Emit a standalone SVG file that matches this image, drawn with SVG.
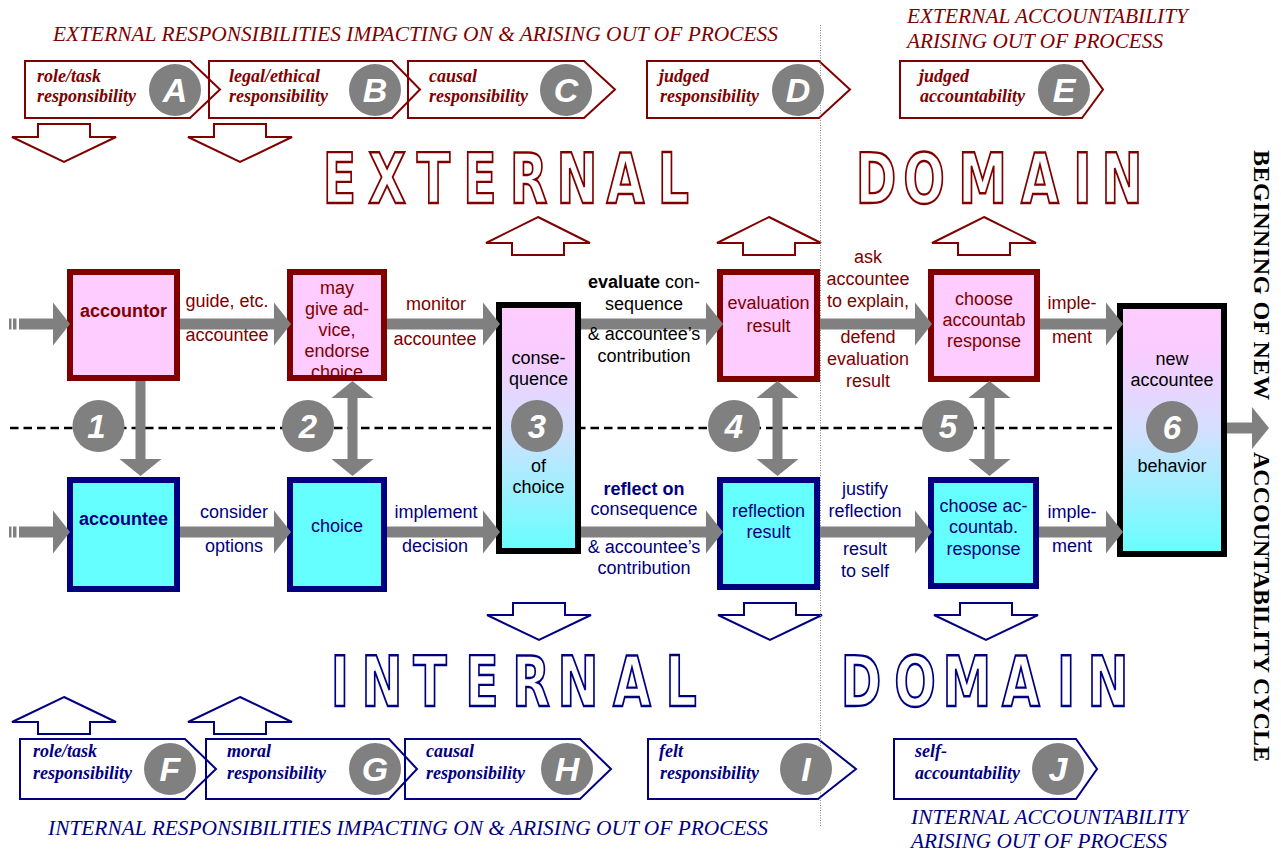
<svg xmlns="http://www.w3.org/2000/svg" width="1281" height="854" viewBox="0 0 1281 854">
<defs>
<style>
.t {font-family:"Liberation Sans",Arial,sans-serif;font-size:18px;text-anchor:middle}
.b {font-weight:bold}
.red {fill:#800000}
.blue {fill:#000080}
.blk {fill:#000}
.ttl {font-family:"Liberation Serif","Times New Roman",serif;font-style:italic;font-size:21px}
.pl {font-family:"Liberation Serif","Times New Roman",serif;font-style:italic;font-weight:bold;font-size:18px}
.big {font-family:"DejaVu Sans","Liberation Sans",sans-serif;font-weight:bold;font-size:70px;fill:#fff;stroke-width:2.4;text-anchor:middle}
.circ {fill:#808080}
.cl {font-family:"Liberation Sans",Arial,sans-serif;font-weight:bold;font-style:italic;font-size:34px;fill:#fff;text-anchor:middle}
.cn {font-family:"Liberation Sans",Arial,sans-serif;font-weight:bold;font-style:italic;font-size:33px;fill:#fff;text-anchor:middle}
.arr {fill:#808080}
.holr {fill:#fff;stroke:#800000;stroke-width:2}
.holb {fill:#fff;stroke:#000080;stroke-width:2}
.pr {fill:none;stroke:#800000;stroke-width:2}
.pb {fill:none;stroke:#000080;stroke-width:2}
.bxr {fill:#ffccff;stroke:#800000;stroke-width:6}
.bxb {fill:#66ffff;stroke:#000080;stroke-width:6}
.bxk {fill:url(#grad);stroke:#000;stroke-width:6}
.vt {font-family:"Liberation Serif","Times New Roman",serif;font-weight:bold;font-size:24px;fill:#000}
</style>
<linearGradient id="grad" x1="0" y1="0" x2="0" y2="1">
<stop offset="0" stop-color="#ffccff"/>
<stop offset="0.2" stop-color="#f8ccff"/>
<stop offset="0.5" stop-color="#d4e0ff"/>
<stop offset="1" stop-color="#66ffff"/>
</linearGradient>
<clipPath id="clipMay"><rect x="293" y="275" width="88" height="100"/></clipPath>
</defs>
<rect width="1281" height="854" fill="#fff"/>

<!-- dashed divider -->
<line x1="10" y1="428" x2="1117" y2="428" stroke="#000" stroke-width="2.5" stroke-dasharray="8.5 5"/>

<!-- titles -->
<g id="titles">
<text class="ttl red" x="53" y="41" textLength="725" lengthAdjust="spacingAndGlyphs">EXTERNAL RESPONSIBILITIES IMPACTING ON &amp; ARISING OUT OF PROCESS</text>
<text class="ttl red" x="907" y="23" textLength="281" lengthAdjust="spacingAndGlyphs">EXTERNAL ACCOUNTABILITY</text>
<text class="ttl red" x="907" y="48" textLength="256" lengthAdjust="spacingAndGlyphs">ARISING OUT OF PROCESS</text>
<text class="ttl blue" x="48" y="835" textLength="720" lengthAdjust="spacingAndGlyphs">INTERNAL RESPONSIBILITIES IMPACTING ON &amp; ARISING OUT OF PROCESS</text>
<text class="ttl blue" x="911" y="824" textLength="277" lengthAdjust="spacingAndGlyphs">INTERNAL ACCOUNTABILITY</text>
<text class="ttl blue" x="911" y="848" textLength="256" lengthAdjust="spacingAndGlyphs">ARISING OUT OF PROCESS</text>
<text class="vt" transform="translate(1254,150) rotate(90)" textLength="250">BEGINNING OF NEW</text>
<text class="vt" transform="translate(1254,452) rotate(90)" textLength="310">ACCOUNTABILITY CYCLE</text>
</g>

<!-- big outlined words -->
<g id="bigwords" transform="scale(0.7,1)">
<text class="big" stroke="#800000" x="485 553 619.3 685.7 755 824.3 893.6 962.1" y="203">EXTERNAL</text>
<text class="big" stroke="#800000" x="1251.4 1320 1403.6 1485.7 1546.4 1602.9" y="203">DOMAIN</text>
<text class="big" stroke="#000080" x="485.7 545.7 614.3 688.6 758.6 825.7 902.9 972.9" y="706">INTERNAL</text>
<text class="big" stroke="#000080" x="1230 1307.1 1381.4 1458.6 1522.9 1582.9" y="706">DOMAIN</text>
</g>

<!-- hollow arrows -->
<g id="hollow">
<polygon class="holr" points="38,124 90,124 90,137 116,137 64,162 12,137 38,137"/>
<polygon class="holr" points="214,124 266,124 266,137 292,137 240,162 188,137 214,137"/>
<polygon class="holr" points="538,217 590,243 564,243 564,255 512,255 512,243 486,243"/>
<polygon class="holr" points="769,217 821,243 795,243 795,255 743,255 743,243 717,243"/>
<polygon class="holr" points="984,217 1036,243 1010,243 1010,255 958,255 958,243 932,243"/>
<polygon class="holb" points="513,603 565,603 565,615 591,615 539,640 487,615 513,615"/>
<polygon class="holb" points="744,603 796,603 796,615 822,615 770,640 718,615 744,615"/>
<polygon class="holb" points="960,603 1012,603 1012,615 1038,615 986,640 934,615 960,615"/>
<polygon class="holb" points="64,697 116,722 90,722 90,734 38,734 38,722 12,722"/>
<polygon class="holb" points="240,697 292,722 266,722 266,734 214,734 214,722 188,722"/>
</g>

<!-- responsibility tags -->
<g id="tagA"><path class="pr" d="M25,61 H190 L220,89.5 L190,118 H25 Z"/><text class="pl red" x="37" y="82">role/task</text><text class="pl red" x="37" y="102">responsibility</text><circle class="circ" cx="175" cy="90" r="26"/><text class="cl" x="175" y="102">A</text></g>
<g id="tagB"><path class="pr" d="M209,61 H392 L420,89.5 L392,118 H209 Z"/><text class="pl red" x="229" y="82">legal/ethical</text><text class="pl red" x="229" y="102">responsibility</text><circle class="circ" cx="375" cy="90" r="26"/><text class="cl" x="375" y="102">B</text></g>
<g id="tagC"><path class="pr" d="M408,61 H584 L615,89.5 L584,118 H408 Z"/><text class="pl red" x="429" y="82">causal</text><text class="pl red" x="429" y="102">responsibility</text><circle class="circ" cx="566" cy="90" r="26"/><text class="cl" x="566" y="102">C</text></g>
<g id="tagD"><path class="pr" d="M647,61 H819 L850,89.5 L819,118 H647 Z"/><text class="pl red" x="659" y="82">judged</text><text class="pl red" x="660" y="102">responsibility</text><circle class="circ" cx="798" cy="90" r="26"/><text class="cl" x="798" y="102">D</text></g>
<g id="tagE"><path class="pr" d="M900,61 H1082 L1103,89.5 L1082,118 H900 Z"/><text class="pl red" x="919" y="82">judged</text><text class="pl red" x="920" y="102">accountability</text><circle class="circ" cx="1064" cy="90" r="26"/><text class="cl" x="1064" y="102">E</text></g>
<g id="tagF"><path class="pb" d="M20,739 H185 L216,769 L185,799 H20 Z"/><text class="pl blue" x="33" y="757">role/task</text><text class="pl blue" x="33" y="779">responsibility</text><circle class="circ" cx="170" cy="769" r="26"/><text class="cl" x="170" y="781">F</text></g>
<g id="tagG"><path class="pb" d="M206,739 H389 L417,769 L389,799 H206 Z"/><text class="pl blue" x="227" y="757">moral</text><text class="pl blue" x="227" y="779">responsibility</text><circle class="circ" cx="375" cy="769" r="26"/><text class="cl" x="375" y="781">G</text></g>
<g id="tagH"><path class="pb" d="M405,739 H580 L611,769 L580,799 H405 Z"/><text class="pl blue" x="426" y="757">causal</text><text class="pl blue" x="426" y="779">responsibility</text><circle class="circ" cx="567" cy="769" r="26"/><text class="cl" x="567" y="781">H</text></g>
<g id="tagI"><path class="pb" d="M648,739 H818 L856,769 L818,799 H648 Z"/><text class="pl blue" x="659" y="757">felt</text><text class="pl blue" x="660" y="779">responsibility</text><circle class="circ" cx="806" cy="769" r="26"/><text class="cl" x="806" y="781">I</text></g>
<g id="tagJ"><path class="pb" d="M894,739 H1076 L1097,769 L1076,799 H894 Z"/><text class="pl blue" x="915" y="757">self-</text><text class="pl blue" x="915" y="779">accountability</text><circle class="circ" cx="1058" cy="769" r="26"/><text class="cl" x="1058" y="781">J</text></g>

<!-- nodes -->
<g id="accountor"><rect class="bxr" x="70" y="272" width="107" height="106"/><text class="t b red" x="123.5" y="317">accountor</text></g>
<g id="mayAdvice"><rect class="bxr" x="290" y="272" width="94" height="106"/>
<g clip-path="url(#clipMay)"><text class="t red" x="337" y="294">may</text><text class="t red" x="337" y="315">give ad-</text><text class="t red" x="337" y="336">vice,</text><text class="t red" x="337" y="357">endorse</text><text class="t red" x="337" y="378">choice</text></g></g>
<g id="accountee"><rect class="bxb" x="70" y="480" width="107" height="109"/><text class="t b blue" x="123.5" y="525">accountee</text></g>
<g id="choice"><rect class="bxb" x="290" y="480" width="94" height="109"/><text class="t blue" x="337" y="532">choice</text></g>
<g id="consequence"><rect class="bxk" x="499" y="305" width="79" height="246"/><text class="t blk" x="538.5" y="364">conse-</text><text class="t blk" x="538.5" y="385">quence</text><text class="t blk" x="538.5" y="472">of</text><text class="t blk" x="538.5" y="493">choice</text></g>
<g id="evaluation"><rect class="bxr" x="720" y="272" width="97" height="107"/><text class="t red" x="768.5" y="309">evaluation</text><text class="t red" x="768.5" y="332">result</text></g>
<g id="reflection"><rect class="bxb" x="720" y="480" width="97" height="107"/><text class="t blue" x="768.5" y="517">reflection</text><text class="t blue" x="768.5" y="538">result</text></g>
<g id="chooseExt"><rect class="bxr" x="931" y="272" width="106" height="107"/><text class="t red" x="984" y="305">choose</text><text class="t red" x="984" y="326">accountab</text><text class="t red" x="984" y="347">response</text></g>
<g id="chooseInt"><rect class="bxb" x="931" y="480" width="105" height="106"/><text class="t blue" x="983.5" y="512">choose ac-</text><text class="t blue" x="983.5" y="533">countab.</text><text class="t blue" x="983.5" y="555">response</text></g>
<g id="newAccountee"><rect class="bxk" x="1120" y="306" width="104" height="248"/><text class="t blk" x="1172" y="365">new</text><text class="t blk" x="1172" y="386">accountee</text><text class="t blk" x="1172" y="472">behavior</text></g>

<!-- connectors -->
<g id="connectors" class="arr">
<rect x="9" y="318.5" width="2.5" height="11"/><rect x="13" y="318.5" width="3.5" height="11"/>
<polygon points="19,318.5 53,318.5 53,302.5 70,324 53,345.5 53,329.5 19,329.5"/>
<polygon points="180,318.5 274,318.5 274,302.5 291,324 274,345.5 274,329.5 180,329.5"/>
<polygon points="387,318.5 483,318.5 483,302.5 500,324 483,345.5 483,329.5 387,329.5"/>
<polygon points="581,318.5 706,318.5 706,302.5 723,324 706,345.5 706,329.5 581,329.5"/>
<polygon points="820,318.5 915,318.5 915,302.5 932,324 915,345.5 915,329.5 820,329.5"/>
<polygon points="1040,318.5 1106,318.5 1106,302.5 1123,324 1106,345.5 1106,329.5 1040,329.5"/>
<rect x="9" y="526.5" width="2.5" height="11"/><rect x="13" y="526.5" width="3.5" height="11"/>
<polygon points="19,526.5 53,526.5 53,510.5 70,532 53,553.5 53,537.5 19,537.5"/>
<polygon points="180,526.5 274,526.5 274,510.5 291,532 274,553.5 274,537.5 180,537.5"/>
<polygon points="387,526.5 483,526.5 483,510.5 500,532 483,553.5 483,537.5 387,537.5"/>
<polygon points="581,526.5 706,526.5 706,510.5 723,532 706,553.5 706,537.5 581,537.5"/>
<polygon points="820,526.5 915,526.5 915,510.5 932,532 915,553.5 915,537.5 820,537.5"/>
<polygon points="1039,526.5 1106,526.5 1106,510.5 1123,532 1106,553.5 1106,537.5 1039,537.5"/>
<polygon points="1227,422.5 1252,422.5 1252,407 1269,428 1252,449 1252,433.5 1227,433.5"/>
<polygon points="135.5,381 145.5,381 145.5,459 161.5,459 140.5,476 119.5,459 135.5,459"/>
<polygon points="352.5,381 373.5,398 357.5,398 357.5,459 373.5,459 352.5,476 331.5,459 347.5,459 347.5,398 331.5,398"/>
<polygon points="777.5,381 798.5,398 782.5,398 782.5,459 798.5,459 777.5,476 756.5,459 772.5,459 772.5,398 756.5,398"/>
<polygon points="989.5,381 1010.5,398 994.5,398 994.5,459 1010.5,459 989.5,476 968.5,459 984.5,459 984.5,398 968.5,398"/>
</g>

<!-- connector labels -->
<g id="labels">
<text class="t red" x="227" y="307">guide, etc.</text><text class="t red" x="227" y="341">accountee</text>
<text class="t red" x="436" y="310">monitor</text><text class="t red" x="435" y="345">accountee</text>
<text class="t blue" x="234" y="518">consider</text><text class="t blue" x="234" y="552">options</text>
<text class="t blue" x="436" y="518">implement</text><text class="t blue" x="435" y="552">decision</text>
<text class="t blk" x="644" y="288"><tspan class="b">evaluate</tspan> con-</text><text class="t blk" x="644" y="310">sequence</text><text class="t blk" x="644" y="340">&amp; accountee’s</text><text class="t blk" x="644" y="362">contribution</text>
<text class="t blue b" x="644" y="495">reflect on</text><text class="t blue" x="644" y="515">consequence</text><text class="t blue" x="644" y="553">&amp; accountee’s</text><text class="t blue" x="644" y="574">contribution</text>
<text class="t red" x="868" y="263">ask</text><text class="t red" x="868" y="285">accountee</text><text class="t red" x="868" y="307">to explain,</text><text class="t red" x="868" y="343">defend</text><text class="t red" x="868" y="365">evaluation</text><text class="t red" x="868" y="387">result</text>
<text class="t blue" x="865" y="495">justify</text><text class="t blue" x="865" y="517">reflection</text><text class="t blue" x="865" y="555">result</text><text class="t blue" x="865" y="577">to self</text>
<text class="t red" x="1072" y="309">imple-</text><text class="t red" x="1072" y="343">ment</text>
<text class="t blue" x="1072" y="518">imple-</text><text class="t blue" x="1072" y="552">ment</text>
</g>

<!-- step numbers -->
<g id="steps">
<circle class="circ" cx="98.5" cy="426" r="26"/><text class="cn" x="96.5" y="438">1</text>
<circle class="circ" cx="308" cy="426" r="26"/><text class="cn" x="308" y="438">2</text>
<circle class="circ" cx="537" cy="426" r="26"/><text class="cn" x="537" y="438">3</text>
<circle class="circ" cx="734" cy="426" r="26"/><text class="cn" x="734" y="438">4</text>
<circle class="circ" cx="948" cy="426" r="26"/><text class="cn" x="948" y="438">5</text>
<circle class="circ" cx="1172" cy="427" r="26"/><text class="cn" x="1172" y="439">6</text>
</g>

<!-- dotted vertical divider -->
<line x1="820.5" y1="25" x2="820.5" y2="827" stroke="#808080" stroke-width="1" stroke-dasharray="1 1.5"/>
</svg>
